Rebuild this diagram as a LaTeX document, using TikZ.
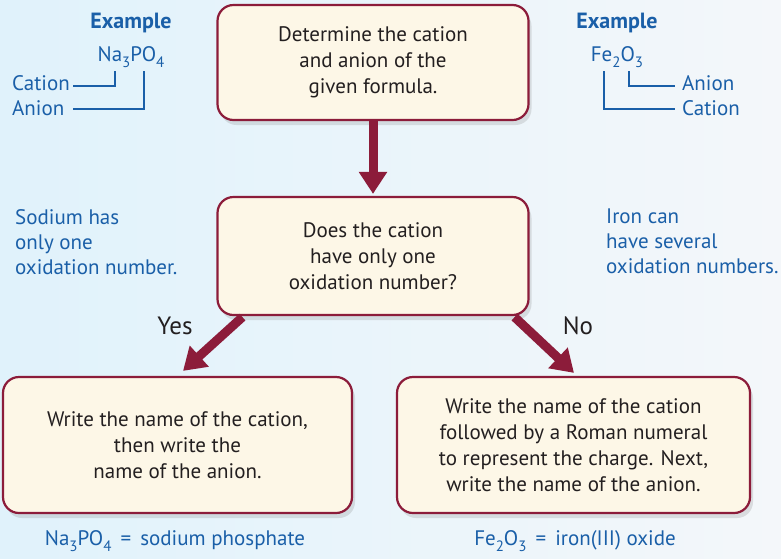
\documentclass[tikz,border=0pt]{standalone}
\usepackage{fontspec}
\setmainfont{PT Sans}
\usetikzlibrary{arrows.meta,shadows,calc}
\definecolor{bgl}{HTML}{E0F2FB}
\definecolor{bgr}{HTML}{F4F7FA}
\definecolor{boxred}{HTML}{8C1C3A}
\definecolor{boxfill}{HTML}{FDF7E7}
\definecolor{txtblue}{HTML}{1A5FA8}
\definecolor{txtdark}{HTML}{231F20}
\newcommand{\chs}[1]{\raisebox{-0.6ex}{\fontsize{15}{15}\selectfont #1}}
\begin{document}
\begin{tikzpicture}[x=1pt,y=-1pt,
  flowbox/.style={draw=boxred, line width=2.2pt, fill=boxfill, rounded corners=16pt,
    align=center, text=txtdark, font=\fontsize{21}{26}\selectfont, inner sep=0pt,
    drop shadow={opacity=0.22, shadow xshift=3pt, shadow yshift=-5pt}},
  flowarrow/.style={draw=boxred, line width=9pt, -{Triangle[width=27pt,length=22pt]}},
  bluetxt/.style={text=txtblue, font=\fontsize{21}{25}\selectfont, inner sep=0pt},
  bluebold/.style={text=txtblue, font=\fontsize{22}{25}\selectfont\bfseries, inner sep=0pt},
  blueline/.style={draw=txtblue, line width=1.3pt},
  yesno/.style={text=txtdark, font=\fontsize{25}{26}\selectfont, inner sep=0pt}]
\shade[left color=bgl, right color=bgr] (0,0) rectangle (781,558);
\useasboundingbox (0,0) rectangle (781,558);

% boxes
\node[flowbox, minimum width=311pt, minimum height=115pt] (top) at (373,62.5)
  {Determine the cation\\and anion of the\\given formula.};
\node[flowbox, minimum width=311pt, minimum height=118pt] (mid) at (373,256)
  {Does the cation\\have only one\\oxidation number?};
\node[flowbox, minimum width=349pt, minimum height=136pt] (left) at (177.5,445)
  {Write the name of the cation,\\then write the\\name of the anion.};
\node[flowbox, minimum width=353pt, minimum height=136pt] (right) at (573.5,445)
  {Write the name of the cation\\followed by a Roman numeral\\to represent the charge. Next,\\write the name of the anion.};

% arrows
\draw[flowarrow] (top.south) -- ([yshift=2pt]mid.north);
\draw[flowarrow] ([xshift=26pt,yshift=-1pt]mid.south west) -- ([xshift=5.5pt,yshift=5pt]left.north);
\draw[flowarrow] ([xshift=-15pt,yshift=-1pt]mid.south east) -- ([xshift=0.5pt,yshift=3pt]right.north);
\node[yesno] (yes) at (175,326) {Yes};
\node[yesno] (no) at (578,326) {No};

% left example
\node[bluebold] (ex1) at (131,23) {Example};
\node[bluetxt] (na) at (131,57) {Na\chs{3}PO\chs{4}};
\node[bluetxt, anchor=west] (cat1) at (12,83) {Cation};
\node[bluetxt, anchor=west] (an1) at (12,108) {Anion};
\coordinate (c1s) at (73,86);
\coordinate (c1e) at (115,71);
\coordinate (a1s) at (73,109);
\coordinate (a1e) at (144,71);
\draw[blueline] (c1s) -| (c1e);
\draw[blueline] (a1s) -| (a1e);

% right example
\node[bluebold] (ex2) at (617,23) {Example};
\node[bluetxt] (fe) at (617,57) {Fe\chs{2}O\chs{3}};
\node[bluetxt, anchor=west] (an2) at (682,83) {Anion};
\node[bluetxt, anchor=west] (cat2) at (682,108) {Cation};
\coordinate (c2s) at (604,71);
\coordinate (c2e) at (675,109);
\coordinate (a2s) at (629,71);
\coordinate (a2e) at (675,86);
\draw[blueline] (c2s) |- (c2e);
\draw[blueline] (a2s) |- (a2e);

% side notes
\node[bluetxt, anchor=north west, align=left] (sod) at (15,209)
  {Sodium has\\only one\\oxidation number.};
\node[bluetxt, anchor=north west, align=left] (iron) at (606,209)
  {Iron can\\have several\\oxidation numbers.};

% results
\node[bluetxt] (res1) at (175,541) {Na\chs{3}PO\chs{4} \,=\, sodium phosphate};
\node[bluetxt] (res2) at (575,541) {Fe\chs{2}O\chs{3} \,=\, iron(III) oxide};
\end{tikzpicture}
\end{document}
